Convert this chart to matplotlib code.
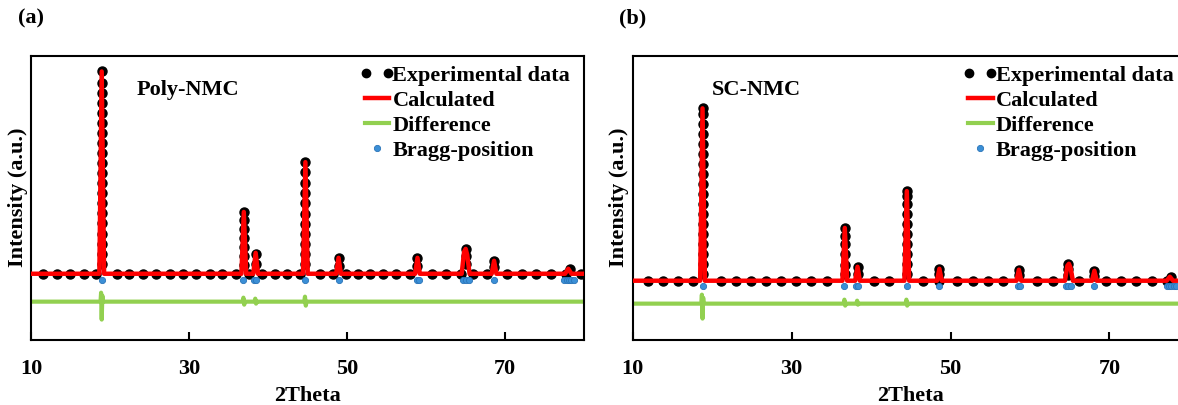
import matplotlib
matplotlib.use("Agg")
import matplotlib.pyplot as plt
from matplotlib.lines import Line2D
from matplotlib.legend_handler import HandlerLine2D

plt.rcParams['font.family'] = ['Liberation Serif', 'DejaVu Serif']
plt.rcParams['font.weight'] = 'bold'

# ---------------- (a) Poly-NMC ----------------
# experimental points on the background
a_exp_x = [11.5, 13.2, 14.9, 16.6, 18.2, 20.8, 22.4, 24.1, 25.8, 27.5, 29.2, 30.9,
           32.6, 34.2, 35.9, 37.6, 39.2, 40.8, 42.4, 44.0, 46.6, 48.2, 49.9, 51.4,
           52.9, 54.5, 56.2, 58.0, 60.7, 62.5, 64.4, 65.9, 67.7, 70.3, 72.2, 73.9,
           75.8, 77.7, 79.6]
a_bg = 66
# experimental points climbing the peaks
a_pk_x = [18.9] * 20 + [36.9] * 7 + [38.4] * 2 + [44.7] * 11 + [48.9] * 2 + \
         [58.9] * 2 + [65.0] * 3 + [68.6] * 2 + [78.2]
a_pk_y = [76, 86, 96, 106, 117, 127, 137, 147, 157, 167, 177, 187, 197, 207, 217,
          227, 237, 247, 257, 269,
          75, 84, 93, 102, 111, 120, 128,
          76, 86,
          76, 86, 96, 106, 116, 126, 137, 147, 157, 168, 178,
          74, 82,
          74, 82,
          76, 84, 91,
          73, 79,
          71]
# calculated profile
a_calc_x = [10, 18.6, 18.9, 19.2, 36.6, 36.9, 37.2, 38.1, 38.4, 38.7, 44.4, 44.7,
            45.0, 48.6, 48.9, 49.2, 58.6, 58.9, 59.2, 64.5, 64.8, 65.0, 65.2, 65.5,
            68.3, 68.6, 68.9, 77.6, 78.0, 78.4, 80]
a_calc_y = [66, 66, 269, 66, 66, 128, 66, 66, 87, 66, 66, 178,
            66, 66, 82, 66, 66, 82, 66, 66, 88, 91, 85, 66,
            66, 79, 66, 66, 71, 66, 66]
# difference curve
a_diff_x = [10, 18.75, 18.82, 18.9, 18.98, 19.05,
            36.75, 36.85, 36.95, 37.05,
            38.25, 38.35, 38.45, 38.55,
            44.55, 44.65, 44.75, 44.85, 80]
a_diff_y = [38, 38, 47, 20, 44, 38,
            38, 42, 35, 38,
            38, 41, 36, 38,
            38, 43, 34, 38, 38]
# Bragg positions
a_bragg = [18.9, 36.8, 38.2, 38.5, 44.7, 48.9, 58.8, 59.1, 64.7, 65.1, 65.4, 68.6,
           77.5, 77.8, 78.1, 78.4, 78.7]
a_bragg_y = 60

# ---------------- (b) SC-NMC ----------------
b_exp_x = [11.9, 13.8, 15.7, 17.6, 21.1, 23.0, 24.9, 26.8, 28.7, 30.5, 32.5, 34.4,
           40.4, 42.3, 46.6, 48.6, 50.8, 52.8, 54.7, 56.6, 60.9, 62.9, 66.2, 69.6,
           71.5, 73.4, 75.4, 77.3, 79.3]
b_bg = 59
b_pk_x = [18.8] * 18 + [36.7] * 6 + [38.3] * 2 + [44.5] * 10 + [48.6] * 2 + \
         [58.6] * 2 + [64.8] * 3 + [68.1] * 2 + [77.8]
b_pk_y = [66, 76, 86, 96, 106, 116, 126, 136, 146, 156, 166, 176, 186, 196, 206,
          216, 226, 232,
          66, 75, 86, 96, 104, 112,
          66, 73,
          66, 76, 86, 96, 106, 116, 126, 136, 144, 149,
          66, 71,
          65, 70,
          65, 71, 76,
          64, 69,
          63]
b_calc_x = [10, 18.5, 18.8, 19.1, 36.4, 36.7, 37.0, 38.0, 38.3, 38.6, 44.2, 44.5,
            44.8, 48.3, 48.6, 48.9, 58.3, 58.6, 58.9, 64.4, 64.7, 64.9, 65.1, 65.4,
            67.8, 68.1, 68.4, 77.2, 77.6, 78.0, 80]
b_calc_y = [59, 59, 232, 59, 59, 112, 59, 59, 73, 59, 59, 149,
            59, 59, 71, 59, 59, 70, 59, 59, 74, 76, 72, 59,
            59, 69, 59, 59, 63, 59, 59]
b_diff_x = [10, 18.65, 18.72, 18.8, 18.88, 18.95,
            36.55, 36.65, 36.75, 36.85,
            38.15, 38.25, 38.35, 38.45,
            44.35, 44.45, 44.55, 44.65, 80]
b_diff_y = [36, 36, 45, 21, 42, 36,
            36, 40, 34, 36,
            36, 39, 35, 36,
            36, 40, 34, 36, 36]
b_bragg = [18.8, 36.6, 38.1, 38.4, 44.5, 48.6, 58.5, 58.8, 64.5, 64.8, 65.1, 68.1,
           77.2, 77.5, 77.8, 78.1, 78.4]
b_bragg_y = 54

x_ticks = [10, 30, 50, 70]
labels = ['Experimental data', 'Calculated', 'Difference', 'Bragg-position']

RED = '#ff0000'
GREEN = '#92d050'
BLUE = '#3b8fd6'

fig = plt.figure(figsize=(11.78, 4.05), dpi=100)
ax_a = fig.add_axes([0.0267, 0.1617, 0.4691, 0.7012])
ax_b = fig.add_axes([0.5370, 0.1617, 0.4723, 0.7012])


def draw_panel(ax, exp_x, bg, pk_x, pk_y, calc_x, calc_y, diff_x, diff_y,
               bragg, bragg_y, name, name_x, tag):
    ex = list(exp_x) + list(pk_x)
    ey = [bg] * len(exp_x) + list(pk_y)
    ax.plot(ex, ey, 'o', color='black', markersize=6.5, zorder=2)
    ax.plot(calc_x, calc_y, '-', color=RED, lw=3.2, zorder=3)
    ax.plot(diff_x, diff_y, '-', color=GREEN, lw=3.0, zorder=2)
    ax.plot(bragg, [bragg_y] * len(bragg), 'o', color=BLUE, markersize=4.5,
            markeredgecolor='#2a74b8', markeredgewidth=0.6, zorder=2)

    ax.set_xlim(10, 80)
    ax.set_ylim(0, 285)
    ax.set_xticks(x_ticks)
    ax.set_yticks([])
    ax.tick_params(axis='x', direction='in', length=6, width=1.5, pad=14,
                   labelsize=16)
    for lab in ax.get_xticklabels():
        lab.set_fontweight('bold')
    for s in ax.spines.values():
        s.set_linewidth(1.5)

    ax.set_xlabel('2Theta', fontsize=16, fontweight='bold')
    ax.xaxis.set_label_coords(0.5, -0.165)
    ax.set_ylabel('Intensity (a.u.)', fontsize=16, fontweight='bold')
    ax.yaxis.set_label_coords(-0.006, 0.5)

    ax.text(name_x, 0.88, name, transform=ax.transAxes, fontsize=16,
            fontweight='bold', va='center', ha='left')
    ax.text(-0.025, 1.13, tag, transform=ax.transAxes, fontsize=16,
            fontweight='bold', va='center', ha='left')

    h_exp = Line2D([], [], ls='none', marker='o', color='black', markersize=6)
    h_calc = Line2D([], [], color=RED, lw=3.2)
    h_diff = Line2D([], [], color=GREEN, lw=3.0)
    h_bragg = Line2D([], [], ls='none', marker='o', color=BLUE, markersize=4.5,
                     markeredgecolor='#2a74b8', markeredgewidth=0.6)
    ax.legend([h_exp, h_calc, h_diff, h_bragg], labels, loc='upper left',
              bbox_to_anchor=(0.603, 0.965), frameon=False,
              handler_map={h_exp: HandlerLine2D(numpoints=2, marker_pad=0.05),
                           h_bragg: HandlerLine2D(numpoints=1)},
              borderpad=0, borderaxespad=0, handlelength=1.1,
              handletextpad=0.15, labelspacing=0.2,
              prop={'size': 16, 'weight': 'bold'})


draw_panel(ax_a, a_exp_x, a_bg, a_pk_x, a_pk_y, a_calc_x, a_calc_y,
           a_diff_x, a_diff_y, a_bragg, a_bragg_y, 'Poly-NMC', 0.190, '(a)')
draw_panel(ax_b, b_exp_x, b_bg, b_pk_x, b_pk_y, b_calc_x, b_calc_y,
           b_diff_x, b_diff_y, b_bragg, b_bragg_y, 'SC-NMC', 0.142, '(b)')

fig.savefig('out.png', dpi=100)
